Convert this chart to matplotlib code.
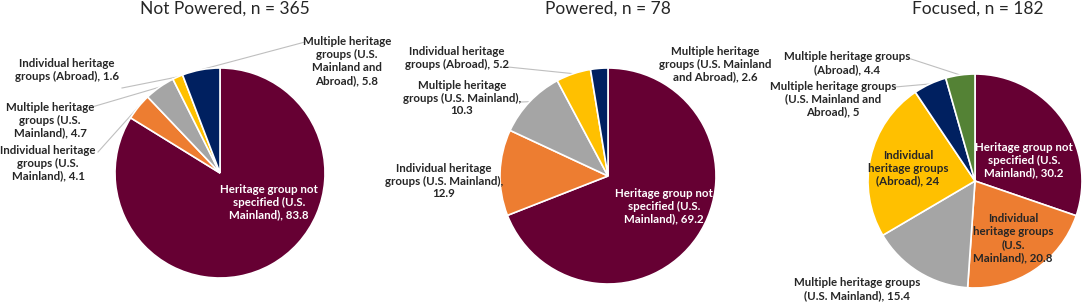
import numpy as np
import matplotlib
matplotlib.use("Agg")
import matplotlib.pyplot as plt

# slice colours, same order in every pie (clockwise from 12 o'clock)
colors = ['#660033', '#ED7D31', '#A5A5A5', '#FFC000', '#002060', '#548235']

titles = ['Not Powered, n = 365', 'Powered, n = 78', 'Focused, n = 182']

not_powered = [83.8, 4.1, 4.7, 1.6, 5.8]
powered = [69.2, 12.9, 10.3, 5.2, 2.6]
focused = [30.2, 20.8, 15.4, 24, 5, 4.4]

not_powered_labels = [
    'Heritage group not\nspecified (U.S.\nMainland), 83.8',
    'Individual heritage\ngroups (U.S.\nMainland), 4.1',
    'Multiple heritage\ngroups (U.S.\nMainland), 4.7',
    'Individual heritage\ngroups (Abroad), 1.6',
    'Multiple heritage\ngroups (U.S.\nMainland and\nAbroad), 5.8',
]
powered_labels = [
    'Heritage group not\nspecified (U.S.\nMainland), 69.2',
    'Individual heritage\ngroups (U.S. Mainland),\n12.9',
    'Multiple heritage\ngroups (U.S. Mainland),\n10.3',
    'Individual heritage\ngroups (Abroad), 5.2',
    'Multiple heritage\ngroups (U.S. Mainland\nand Abroad), 2.6',
]
focused_labels = [
    'Heritage group not\nspecified (U.S.\nMainland), 30.2',
    'Individual\nheritage groups\n(U.S.\nMainland), 20.8',
    'Multiple heritage groups\n(U.S. Mainland), 15.4',
    'Individual\nheritage groups\n(Abroad), 24',
    'Multiple heritage groups\n(U.S. Mainland and\nAbroad), 5',
    'Multiple heritage groups\n(Abroad), 4.4',
]

W, H = 1084, 303

# layout in image pixels (y down): pie centre, radius, title pos
pies = [
    dict(vals=not_powered, labels=not_powered_labels, center=(220, 173), r=105, title=(225, 9),
         # label centre, text colour, leader start (or None)
         pos=[((269, 202), 'white', None),
              ((48, 163), 'k', (98, 152)),
              ((50, 120), 'k', (92, 107)),
              ((67, 70), 'k', (122, 88)),
              ((347, 61), 'k', (305, 42))]),
    dict(vals=powered, labels=powered_labels, center=(608, 176), r=108, title=(608, 9),
         pos=[((664, 206), 'white', None),
              ((444, 181), 'k', None),
              ((462, 98), 'k', (521, 102)),
              ((457, 58), 'k', (508, 67)),
              ((715, 64), 'k', None)]),
    dict(vals=focused, labels=focused_labels, center=(975, 181), r=107, title=(978, 9),
         pos=[((1024, 160), 'white', None),
              ((1013, 238), 'k', None),
              ((857, 289), 'k', None),
              ((908, 168), 'k', None),
              ((833, 99), 'k', (895, 87)),
              ((847, 63), 'k', (908, 58))]),
]

plt.rcParams['font.family'] = ['Lato', 'DejaVu Sans']

fig = plt.figure(figsize=(W / 100, H / 100), dpi=100)
ax = fig.add_axes([0, 0, 1, 1])

for p, t in zip(pies, titles):
    cx, cy = p['center'][0], H - p['center'][1]
    wedges, _ = ax.pie(p['vals'], colors=colors[:len(p['vals'])], startangle=90,
                       counterclock=False, center=(cx, cy), radius=p['r'],
                       wedgeprops=dict(edgecolor='white', linewidth=1.2), frame=True)
    for w, lab, (tp, col, lead) in zip(wedges, p['labels'], p['pos']):
        tc = 'white' if col == 'white' else '#262626'
        ax.text(tp[0], H - tp[1], lab, ha='center', va='center', color=tc,
                fontsize=8.3, fontweight='bold', linespacing=1.2)
        if lead is not None:
            # leader line from label to the wedge's outer mid point
            ang = np.deg2rad((w.theta1 + w.theta2) / 2)
            ex = cx + p['r'] * np.cos(ang)
            ey = cy + p['r'] * np.sin(ang)
            ax.plot([lead[0], ex], [H - lead[1], ey], color='#BFBFBF', lw=0.8, zorder=0.5)
    ax.text(p['title'][0], H - p['title'][1], t, ha='center', va='center',
            fontsize=12.5, color='#262626')

ax.set_xlim(0, W)
ax.set_ylim(0, H)
ax.set_aspect('equal')
ax.axis('off')
fig.savefig('out.png', dpi=100)
